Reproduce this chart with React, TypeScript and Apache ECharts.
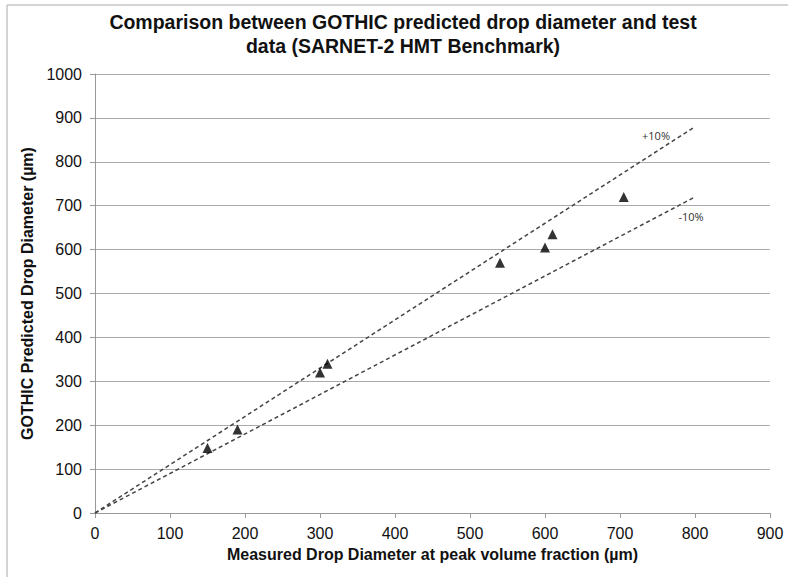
import React, { useEffect, useRef } from "react";
import * as echarts from "echarts";

const measured = [150, 190, 300, 310, 540, 600, 610, 705];
const predicted = [148, 190, 320, 340, 570, 605, 635, 720];
const plusLine = [[0, 0], [800, 880]];
const minusLine = [[0, 0], [800, 720]];
const plusLabel = "+10%";
const minusLabel = "-10%";

export default function App() {
  const ref = useRef<HTMLDivElement>(null);
  useEffect(() => {
    const chart = echarts.init(ref.current!, null, { renderer: "svg" });
    const font = "'Liberation Sans', Arial, sans-serif";
    const mkEnd = (label: string, offset: number[]) => ({
      show: true,
      formatter: label,
      distance: 0,
      align: "center",
      verticalAlign: "middle",
      offset,
      fontSize: 11,
      color: "#333",
      fontFamily: "'Open Sans', sans-serif",
    });
    chart.setOption({
      animation: false,
      backgroundColor: "#fff",
      color: ["#444", "#444", "#000"],
      title: {
        text: "Comparison between GOTHIC predicted drop diameter and test\ndata (SARNET-2 HMT Benchmark)",
        left: 398,
        textAlign: "center",
        top: 5,
        textStyle: { fontFamily: font, fontWeight: "bold", fontSize: 19.5, lineHeight: 24, color: "#111" },
      },
      graphic: [
        {
          type: "rect",
          shape: { x: 7, y: 5, width: 1000, height: 1000 },
          style: { fill: "none", stroke: "#aaa", lineWidth: 1 },
          silent: true,
        },
      ],
      grid: { left: 95, right: 18, top: 74, bottom: 64, containLabel: false },
      xAxis: {
        type: "value",
        min: 0,
        max: 900,
        interval: 100,
        name: "Measured Drop Diameter at peak volume fraction (µm)",
        nameLocation: "middle",
        nameGap: 33,
        nameTextStyle: { fontFamily: font, fontWeight: "bold", fontSize: 16, color: "#111" },
        axisLine: { show: true, lineStyle: { color: "#999" } },
        axisTick: { show: true, length: 5, lineStyle: { color: "#999" } },
        axisLabel: { fontFamily: font, fontSize: 16, color: "#111", margin: 12 },
        splitLine: { show: false },
      },
      yAxis: {
        type: "value",
        min: 0,
        max: 1000,
        interval: 100,
        name: "GOTHIC Predicted Drop Diameter (µm)",
        nameLocation: "middle",
        nameGap: 56,
        nameTextStyle: { fontFamily: font, fontWeight: "bold", fontSize: 16, color: "#111" },
        axisLine: { show: true, lineStyle: { color: "#999" } },
        axisTick: { show: true, length: 5, lineStyle: { color: "#999" } },
        axisLabel: { fontFamily: font, fontSize: 16, color: "#111", margin: 13, formatter: (v: number) => String(v) },
        splitLine: { show: true, lineStyle: { color: "#aaa", width: 1 } },
      },
      series: [
        {
          type: "line",
          data: plusLine,
          symbol: "none",
          showSymbol: false,
          itemStyle: { color: "#444" },
          lineStyle: { color: "#444", width: 1.5, type: [4, 3] },
          endLabel: mkEnd(plusLabel, [-39, 9]),
          z: 3,
        },
        {
          type: "line",
          data: minusLine,
          symbol: "none",
          showSymbol: false,
          itemStyle: { color: "#444" },
          lineStyle: { color: "#444", width: 1.5, type: [4, 3] },
          endLabel: mkEnd(minusLabel, [-4, 20]),
          z: 3,
        },
        {
          type: "scatter",
          data: measured.map((x, i) => [x, predicted[i]]),
          symbol: "triangle",
          symbolSize: 10,
          itemStyle: { color: "#000" },
          z: 5,
        },
      ],
    });
    return () => chart.dispose();
  }, []);
  return <div ref={ref} style={{ width: 788, height: 577, position: "absolute", left: 0, top: 0 }} />;
}
